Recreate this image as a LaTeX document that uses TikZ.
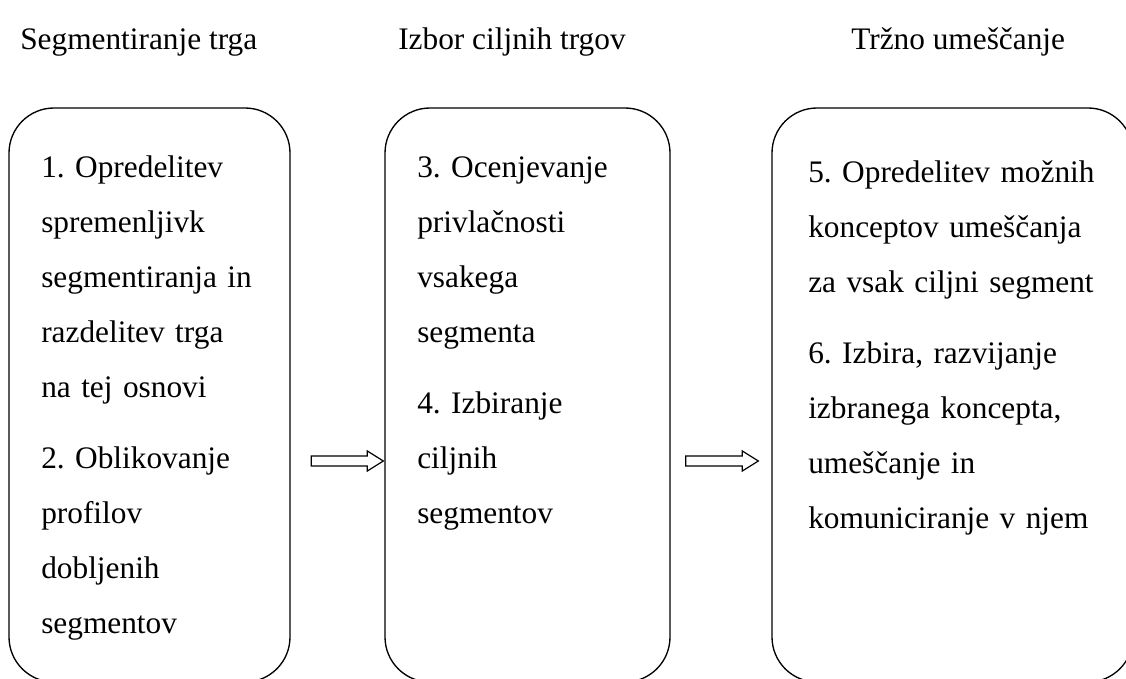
\documentclass[tikz,border=0pt]{standalone}
\usepackage{fontspec}
\setmainfont{Liberation Serif}
\frenchspacing
\usetikzlibrary{
positioning,%
calc
}
\tikzset{
    head/.style={anchor=base west, inner sep=0pt, font=\fontsize{23.5pt}{41.25pt}\selectfont},
    stage/.style={draw, line width=1pt, rectangle, rounded corners=33.75pt, minimum height=430.5pt, inner sep=0pt},
    steps/.style={anchor=base west, inner sep=0pt, align=left, font=\fontsize{23.5pt}{41.25pt}\selectfont},
    blockarr/.style={draw, line width=0.9pt, line join=miter}
}
% hollow block arrow from #1 to #2
\newcommand{\blockarrow}[2]{%
    \draw[blockarr] ($(#1)+(0,-5)$) -- ($(#2)+(-16,-5)$) -- ($(#2)+(-16,-10)$) -- (#2)
        -- ($(#2)+(-16,10)$) -- ($(#2)+(-16,5)$) -- ($(#1)+(0,5)$) -- cycle;}

\begin{document}
\begin{tikzpicture}[x=0.75pt, y=-0.75pt]
            \useasboundingbox (0,0) rectangle (1126,678);
            \node[head] (h1) at (20,49) {Segmentiranje trga};
            \node[head] (h2) at (398,49) {Izbor ciljnih trgov};
            \node[head] (h3) at (851,49) {Tržno umeščanje};
            \node[stage, minimum width=210.75pt] (b1) at (149.5,395) {};
            \node[stage, minimum width=213.75pt] (b2) at (527.5,395) {};
            \node[stage, minimum width=270.75pt] (b3) at (952.5,395) {};
            \node[steps, text width=180pt] (t1) at (41,177) {1. Opredelitev\\spremenljivk\\segmentiranja in\\razdelitev trga\\na tej osnovi\\[12pt]2. Oblikovanje\\profilov\\dobljenih\\segmentov};
            \node[steps, text width=180pt] (t2) at (417,177) {3. Ocenjevanje\\privlačnosti\\vsakega\\segmenta\\[12pt]4. Izbiranje\\ciljnih\\segmentov};
            \node[steps, text width=247pt] (t3) at (808,182) {5. Opredelitev možnih\\konceptov umeščanja\\za vsak ciljni segment\\[12pt]6. Izbira, razvijanje\\izbranega koncepta,\\umeščanje in\\komuniciranje v njem};
            \coordinate (a1s) at ($(b1.east)+(20.5,66)$);
            \coordinate (a1e) at ($(b2.west)+(-1,66)$);
            \coordinate (a2s) at ($(b2.east)+(15,66)$);
            \coordinate (a2e) at ($(b3.west)+(-13,66)$);
            \blockarrow{a1s}{a1e}
            \blockarrow{a2s}{a2e}
        \end{tikzpicture}
\end{document}
